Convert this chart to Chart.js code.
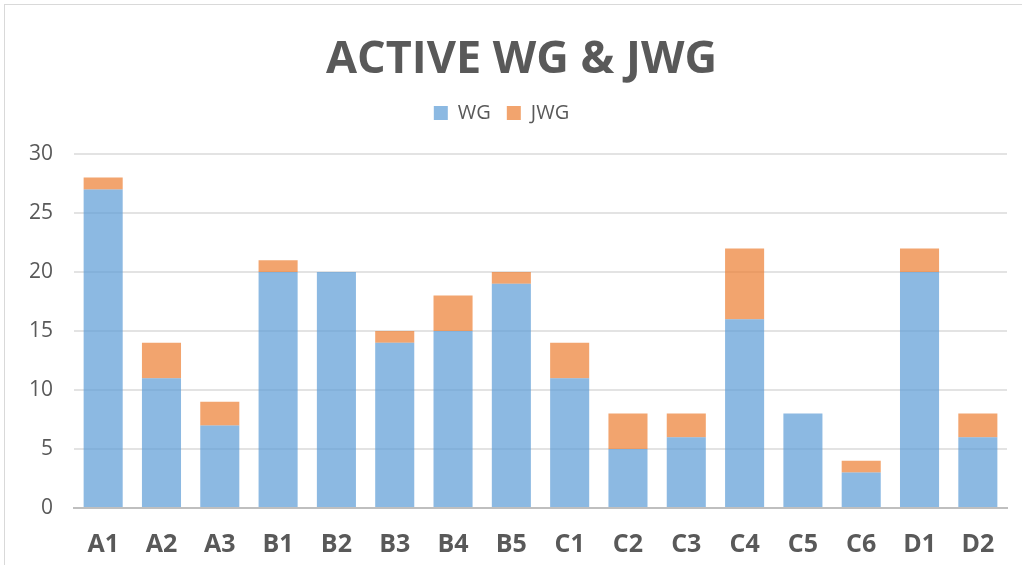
<!DOCTYPE html>
<html>
<head>
<meta charset="utf-8">
<script src="https://cdn.jsdelivr.net/npm/chart.js@4.4.0/dist/chart.umd.min.js"></script>
<style>
  html, body { margin: 0; padding: 0; background: #fff; }
  #wrap { position: relative; width: 1022px; height: 565px; }
  #frame { position: absolute; left: 4px; top: 4px; right: -2px; bottom: -2px; border: 1px solid #d9d9d9; pointer-events: none; }
</style>
</head>
<body>
<div id="wrap">
  <canvas id="myChart" width="1022" height="565"></canvas>
  <div id="frame"></div>
</div>
<script>
var categories = ['A1', 'A2', 'A3', 'B1', 'B2', 'B3', 'B4', 'B5', 'C1', 'C2', 'C3', 'C4', 'C5', 'C6', 'D1', 'D2'];
var wg = [27, 11, 7, 20, 20, 14, 15, 19, 11, 5, 6, 16, 8, 3, 20, 6];
var jwg = [1, 3, 2, 1, 0, 1, 3, 1, 3, 3, 2, 6, 0, 1, 2, 2];
var yTicks = [0, 5, 10, 15, 20, 25, 30];

var fontName = "'Open Sans', 'Liberation Sans', sans-serif";
var textColor = '#595959';

// extra room under the legend, and nudge title / legend sideways
var legendGap = {
   id: 'legendGap',
   beforeInit: function (chart) {
      var fit = chart.legend.fit;
      chart.legend.fit = function () {
         fit.bind(chart.legend)();
         this.height += 21;
      };
   },
   afterLayout: function (chart) {
      chart.titleBlock.left += 28;
      chart.legend.left -= 12;
   }
};

var ctx = document.getElementById('myChart').getContext('2d');
var myChart = new Chart(ctx, {
   type: 'bar',
   data: {
      labels: categories,
      datasets: [{
         label: 'WG',
         data: wg,
         backgroundColor: 'rgba(91, 155, 213, 0.7)',
         borderWidth: 0,
         categoryPercentage: 1,
         barPercentage: 0.67
      }, {
         label: 'JWG',
         data: jwg,
         backgroundColor: 'rgba(237, 125, 49, 0.7)',
         borderWidth: 0,
         categoryPercentage: 1,
         barPercentage: 0.67
      }]
   },
   plugins: [legendGap],
   options: {
      responsive: false,
      animation: false,
      layout: { padding: { left: 8, right: 15, top: 0, bottom: -9 } },
      plugins: {
         title: {
            display: true,
            text: 'ACTIVE WG & JWG',
            color: textColor,
            font: { family: fontName, size: 45, weight: 'bold' },
            padding: { top: 33, bottom: 0 }
         },
         legend: {
            display: true,
            labels: {
               color: textColor,
               font: { family: fontName, size: 20 },
               boxWidth: 14,
               boxHeight: 14,
               padding: 16
            }
         },
         tooltip: { enabled: false }
      },
      scales: {
         x: {
            stacked: true,
            grid: { display: false },
            border: { color: '#bfbfbf', width: 2 },
            ticks: {
               color: textColor,
               font: { family: fontName, size: 25, weight: 'bold' },
               padding: 14
            }
         },
         y: {
            stacked: true,
            min: 0,
            max: 30,
            afterBuildTicks: function (axis) {
               axis.ticks = yTicks.map(function (v) { return { value: v }; });
            },
            grid: {
               color: function (c) { return c.tick && c.tick.value === 0 ? '#bfbfbf' : '#e3e3e3'; },
               lineWidth: 2,
               drawTicks: false
            },
            border: { display: false },
            ticks: {
               color: textColor,
               font: { family: fontName, size: 21 },
               padding: 21
            }
         }
      }
   }
});
</script>
</body>
</html>
